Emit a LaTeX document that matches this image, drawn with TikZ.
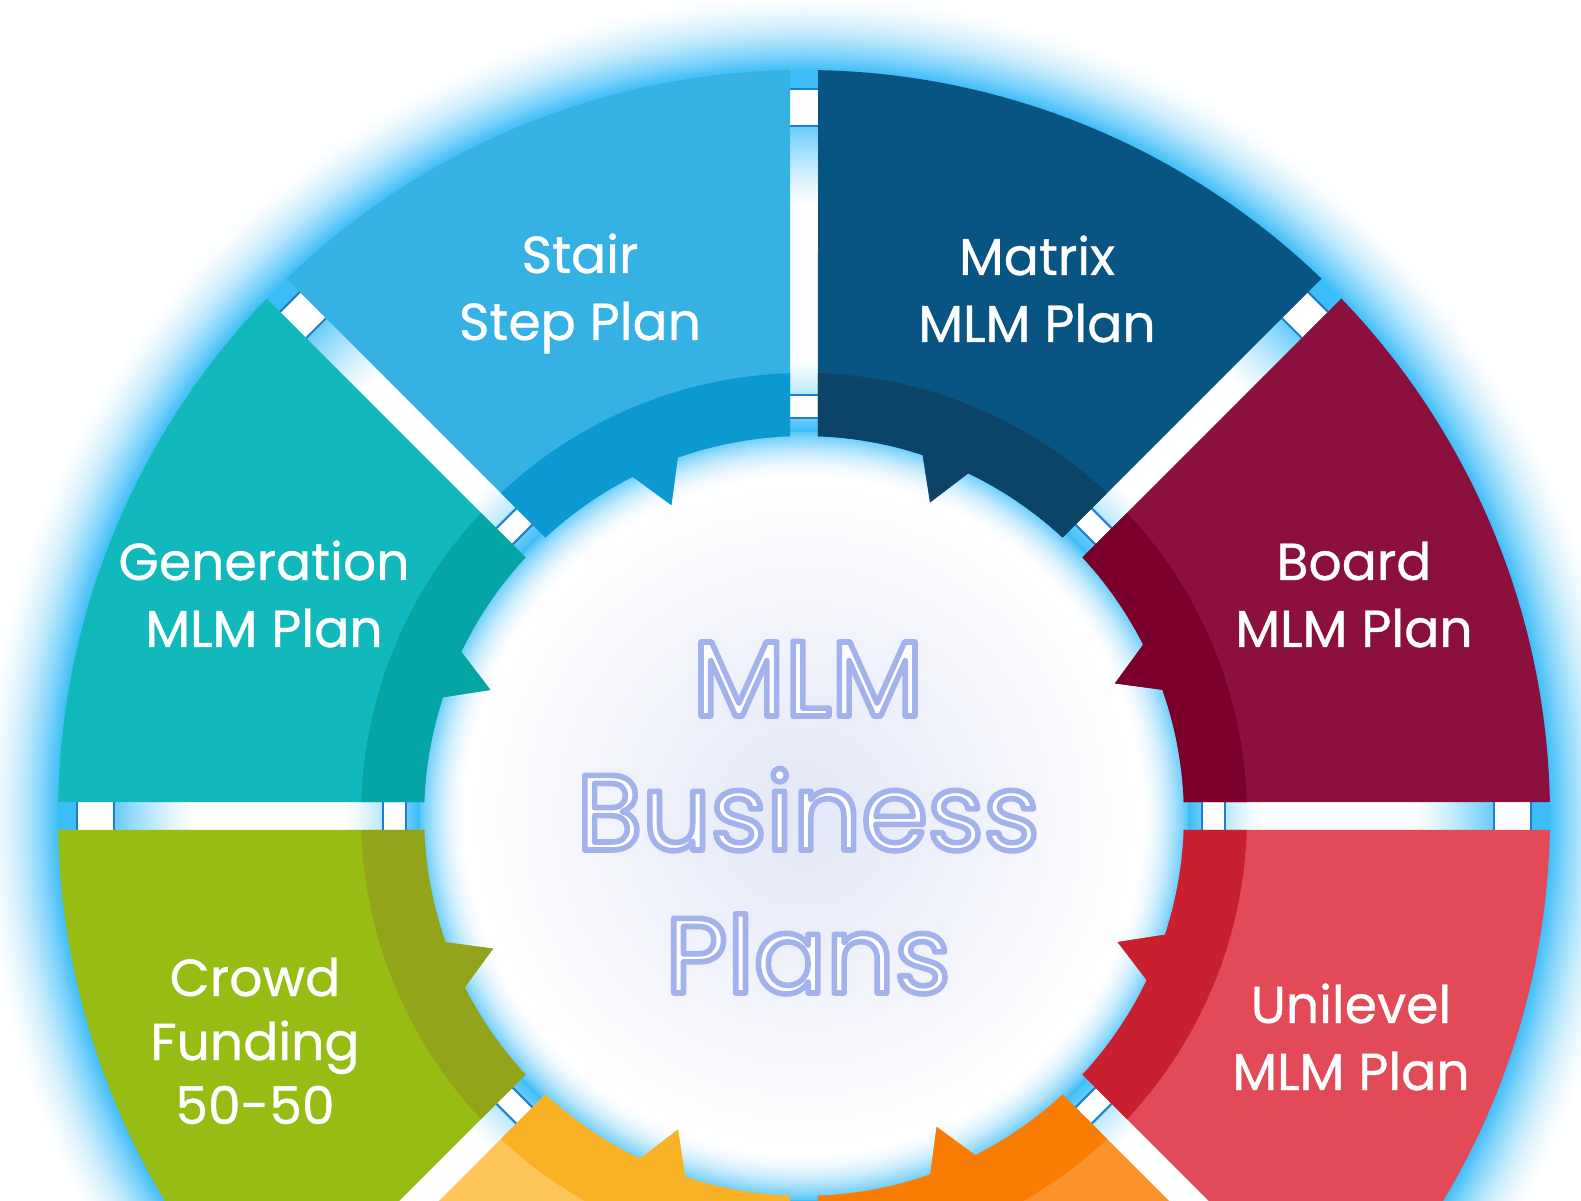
\documentclass[tikz,border=0pt]{standalone}
\usepackage{fontspec}
\setmainfont{Poppins}
\newfontfamily\lblfont[FakeBold=0.7]{Poppins}
\definecolor{glow}{HTML}{3DBDF8}
\definecolor{cin}{HTML}{DCE2F5}
\definecolor{tabline}{HTML}{1E7FD0}
\definecolor{boardL}{HTML}{8B103D}
\definecolor{boardD}{HTML}{7A002B}
\definecolor{matrixL}{HTML}{085482}
\definecolor{matrixD}{HTML}{0B4467}
\definecolor{stairL}{HTML}{36B1E3}
\definecolor{stairD}{HTML}{0C98D0}
\definecolor{genL}{HTML}{12B9BC}
\definecolor{genD}{HTML}{05A5A5}
\definecolor{crowdL}{HTML}{97BC13}
\definecolor{crowdD}{HTML}{93A31A}
\definecolor{yelL}{HTML}{FEC55B}
\definecolor{yelD}{HTML}{F9B223}
\definecolor{oraL}{HTML}{FB932D}
\definecolor{oraD}{HTML}{F97C03}
\definecolor{uniL}{HTML}{E24A58}
\definecolor{uniD}{HTML}{C8202F}
\newcommand\segment[3]{%
  \pgfmathsetmacro\sA{#1}%
  \pgfmathsetmacro\eA{#1+45}%
  \pgfmathsetmacro\cA{#1+23.1}%
  \fill[#2] ({\sA+1.075}:746pt) arc[start angle=\sA+1.075, end angle=\eA-1.075, radius=746pt]
    -- ({\eA-2.11}:380pt) arc[start angle=\eA-2.11, end angle=\cA+3.7, radius=380pt]
    -- (\cA:338pt) -- ({\cA-3.7}:380pt) arc[start angle=\cA-3.7, end angle=\sA+2.11, radius=380pt] -- cycle;
  \fill[#3] ({\sA+1.81}:443pt) arc[start angle=\sA+1.81, end angle=\eA-1.81, radius=443pt]
    -- ({\eA-2.11}:380pt) arc[start angle=\eA-2.11, end angle=\cA+3.7, radius=380pt]
    -- (\cA:338pt) -- ({\cA-3.7}:380pt) arc[start angle=\cA-3.7, end angle=\sA+2.11, radius=380pt] -- cycle;
}
% outlined text: fill white, stroke lavender, in one text object
\newcommand\otx[1]{\special{pdf:literal direct 2 Tr 5.6 w 1 J 1 j 0.64 0.70 0.93 RG}#1\special{pdf:literal direct 0 Tr}}
\tikzset{
  lbl/.style={text=white, font=\lblfont\fontsize{52}{67}\selectfont, align=center, anchor=base, inner sep=0pt},
  ctr/.style={text=white, font=\fontsize{107}{140}\selectfont, anchor=base, inner sep=0pt},
  tabfill/.style={fill=white},
  tabedge/.style={draw=tabline, line width=2pt}
}
\begin{document}
\begin{tikzpicture}
\useasboundingbox (0pt,0pt) rectangle (1581pt,1200pt);
\clip (0pt,0pt) rectangle (1581pt,1200pt);
\fill[white] (0pt,0pt) rectangle (1581pt,1200pt);
\begin{scope}[shift={(804pt,384pt)}]
  \foreach \r in {826,824,...,746}{
    \pgfmathsetmacro\p{100*((826-\r)/80)^1.8}
    \fill[glow!\p!white] (0pt,0pt) circle[radius=\r pt];
  }
  \foreach \r in {700,698,...,610}{
    \pgfmathsetmacro\p{90*((\r-610)/90)^1.3}
    \fill[glow!\p!white] (0pt,0pt) circle[radius=\r pt];
  }
  \foreach \r in {462,460,...,386}{
    \pgfmathsetmacro\p{100*((462-\r)/76)^1.5}
    \fill[glow!\p!white] (0pt,0pt) circle[radius=\r pt];
  }
  \foreach \r in {384,382,...,336}{
    \pgfmathsetmacro\p{85*((\r-336)/48)^2}
    \fill[glow!\p!white] (0pt,0pt) circle[radius=\r pt];
  }
  \foreach \r in {336,330,...,6}{
    \pgfmathsetmacro\q{80*(1-\r/336)^0.9}
    \fill[cin!\q!white] (0pt,0pt) circle[radius=\r pt];
  }
  \foreach \t in {0,45,...,315}{
    \begin{scope}[rotate=\t]
      \fill[tabfill] (398pt,-14pt) rectangle (421pt,14pt);
      \draw[tabedge] (398pt,-14pt) -- (398pt,14pt) (421pt,-14pt) -- (421pt,14pt);
      \fill[tabfill] (690pt,-14pt) rectangle (727pt,14pt);
      \draw[tabedge] (690pt,-14pt) -- (690pt,14pt) (727pt,-14pt) -- (727pt,14pt);
    \end{scope}
  }
  \segment{0}{boardL}{boardD}
  \segment{45}{matrixL}{matrixD}
  \segment{90}{stairL}{stairD}
  \segment{135}{genL}{genD}
  \segment{180}{crowdL}{crowdD}
  \segment{225}{yelL}{yelD}
  \segment{270}{oraL}{oraD}
  \segment{315}{uniL}{uniD}
\end{scope}
\node[lbl] (stair) at (580pt,860pt) {Stair\\Step Plan};
\node[lbl] (matrix) at (1037pt,858pt) {Matrix\\MLM Plan};
\node[lbl] (gen) at (264pt,553pt) {Generation\\MLM Plan};
\node[lbl] (board) at (1354pt,553pt) {Board\\MLM Plan};
\node[lbl, font=\lblfont\fontsize{52}{64}\selectfont] (crowd) at (255pt,76pt) {Crowd\\Funding\\50-50};
\node[lbl] (uni) at (1351pt,110pt) {Unilevel\\MLM Plan};
\node[ctr] (t1) at (808pt,484pt) {\otx{MLM}};
\node[ctr] (t2) at (808pt,350pt) {\otx{Business}};
\node[ctr] (t3) at (808pt,207pt) {\otx{Plans}};
\end{tikzpicture}
\end{document}
